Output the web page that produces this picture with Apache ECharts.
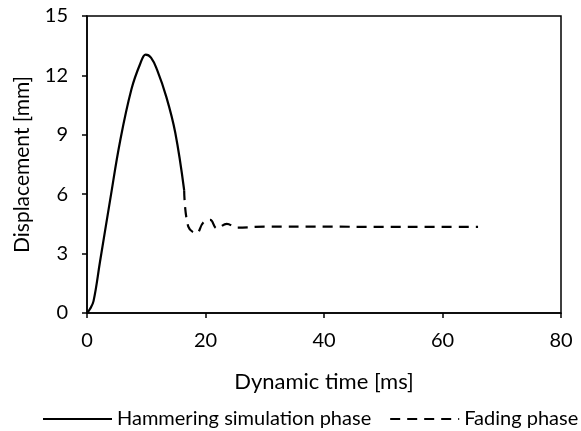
<!DOCTYPE html>
<html><head><meta charset="utf-8">
<script src="https://cdn.jsdelivr.net/npm/echarts@6/dist/echarts.min.js"></script>
<style>html,body{margin:0;padding:0;background:#fff}#c{width:581px;height:431px}</style>
</head><body><div id="c"></div>
<script>
const hammerTime = [0, 0.5, 1.1, 2.2, 3.9, 5.6, 7.5, 9.0, 9.9, 10.8, 11.8, 13.4, 14.9, 16.4];
const hammerDisp = [0, 0.2, 0.6, 2.6, 5.7, 8.7, 11.3, 12.6, 13.05, 12.9, 12.3, 10.9, 9.1, 6.2];
const fadeTime = [16.4, 17.1, 18.5, 19.6, 20.8, 21.9, 23.6, 25.3, 30, 40, 50, 60, 66];
const fadeDisp = [6.2, 4.36, 4.03, 4.56, 4.7, 4.28, 4.5, 4.31, 4.36, 4.36, 4.35, 4.35, 4.35];
const xTicks = [0, 20, 40, 60, 80];
const yTicks = [0, 3, 6, 9, 12, 15];
const seriesNames = ['Hammering simulation phase', 'Fading phase'];

const font = 'Lato, "Open Sans", sans-serif';
const chart = echarts.init(document.getElementById('c'));
chart.setOption({
  animation: false,
  grid: {left: 87, right: 20, top: 16, bottom: 118, show: true, borderColor: '#000', borderWidth: 1.5},
  legend: {
    top: 409, left: 42, width: 560, padding: 0, itemWidth: 69, itemHeight: 14, itemGap: 18,
    textStyle: {fontFamily: font, fontSize: 20, color: '#000'},
    itemStyle: {opacity: 0},
    data: seriesNames
  },
  xAxis: {
    type: 'value', min: xTicks[0], max: xTicks[xTicks.length - 1], interval: 20,
    name: 'Dynamic time [ms]', nameLocation: 'middle', nameGap: 58,
    nameTextStyle: {fontFamily: font, fontSize: 22, color: '#000'},
    axisLine: {lineStyle: {color: '#000', width: 1.5}},
    axisTick: {show: true, inside: false, length: 5, lineStyle: {color: '#000', width: 1.5}},
    axisLabel: {fontFamily: font, fontSize: 20, color: '#000', margin: 18},
    splitLine: {show: false}
  },
  yAxis: {
    type: 'value', min: yTicks[0], max: yTicks[yTicks.length - 1], interval: 3,
    name: 'Displacement [mm]', nameLocation: 'middle', nameGap: 54, nameRotate: 90,
    nameTextStyle: {fontFamily: font, fontSize: 21, color: '#000'},
    axisLine: {show: true, lineStyle: {color: '#000', width: 1.5}},
    axisTick: {show: true, inside: false, length: 5, lineStyle: {color: '#000', width: 1.5}},
    axisLabel: {fontFamily: font, fontSize: 20, color: '#000', margin: 19},
    splitLine: {show: false}
  },
  series: [
    {
      name: seriesNames[0], type: 'line', smooth: 0.4, symbol: 'none',
      data: hammerTime.map((t, i) => [t, hammerDisp[i]]),
      lineStyle: {color: '#000', width: 2.2, type: 'solid'},
      itemStyle: {color: '#000'}
    },
    {
      name: seriesNames[1], type: 'line', smooth: 0.4, symbol: 'none',
      data: fadeTime.map((t, i) => [t, fadeDisp[i]]),
      lineStyle: {color: '#000', width: 2.2, type: [10, 7]},
      itemStyle: {color: '#000'}
    }
  ]
});
</script></body></html>
